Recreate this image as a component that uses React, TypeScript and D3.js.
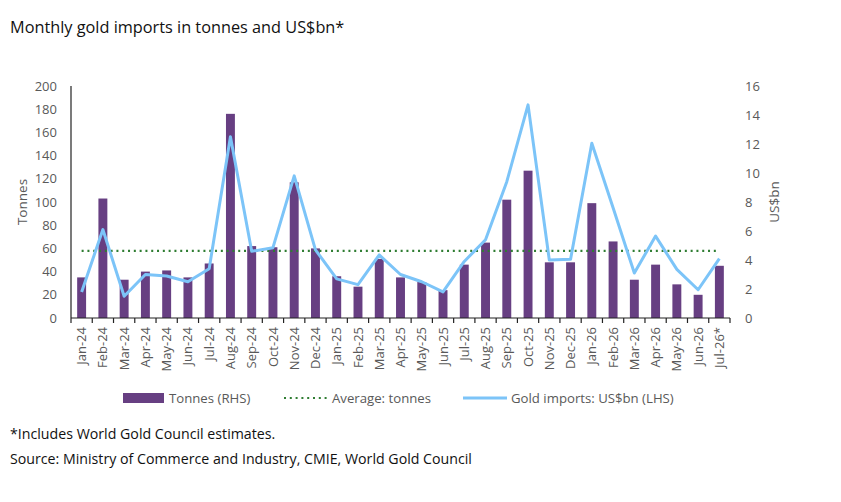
import * as d3 from "d3";

const months = [
  "Jan-24", "Feb-24", "Mar-24", "Apr-24", "May-24", "Jun-24", "Jul-24", "Aug-24",
  "Sep-24", "Oct-24", "Nov-24", "Dec-24", "Jan-25", "Feb-25", "Mar-25", "Apr-25",
  "May-25", "Jun-25", "Jul-25", "Aug-25", "Sep-25", "Oct-25", "Nov-25", "Dec-25",
  "Jan-26", "Feb-26", "Mar-26", "Apr-26", "May-26", "Jun-26", "Jul-26*",
];

// tonnes (bars)
const tonnes = [
  35, 103, 33, 40, 41, 35, 47, 176, 62, 61, 117, 60, 36, 27, 51, 35,
  31, 24, 46, 65, 102, 127, 48, 48, 99, 66, 33, 46, 29, 20, 45,
];

// US$bn (line)
const usdBn = [
  1.8, 6.1, 1.5, 3.0, 2.9, 2.5, 3.4, 12.5, 4.6, 4.85, 9.8, 4.7, 2.7, 2.3, 4.35, 3.0,
  2.5, 1.8, 3.9, 5.4, 9.4, 14.7, 4.0, 4.05, 12.05, 7.6, 3.1, 5.65, 3.35, 1.95, 4.1,
];

const avgTonnes = 57.8;

const leftTicks = [0, 20, 40, 60, 80, 100, 120, 140, 160, 180, 200];
const rightTicks = [0, 2, 4, 6, 8, 10, 12, 14, 16];

const W = 841;
const H = 502;
const plot = { left: 71, right: 730, top: 86, bottom: 318 };
const font = "'Open Sans', 'Noto Sans', sans-serif";
const grey = "#595959";
const purple = "#673f82";
const blue = "#7cc4f8";
const green = "#2f7d32";

export default function App() {
  const x = d3
    .scaleBand()
    .domain(months)
    .range([plot.left, plot.right])
    .paddingInner(0.58)
    .paddingOuter(0.29);

  const step = x.step();
  const center = (m: string) => x(m)! + x.bandwidth() / 2;

  const yL = d3.scaleLinear().domain([0, 200]).range([plot.bottom, plot.top]);
  const yR = d3.scaleLinear().domain([0, 16]).range([plot.bottom, plot.top]);

  const line = d3
    .line<number>()
    .x((_, i) => center(months[i]))
    .y((d) => yR(d));

  const boundaries = d3.range(months.length + 1).map((i) => plot.left + i * step);

  return (
    <svg width={W} height={H} style={{ position: "absolute", left: 0, top: 0, background: "#fff" }} fontFamily={font}>
      <text x={10} y={33} fontSize={16.3} fill="#111">
        Monthly gold imports in tonnes and US$bn*
      </text>

      {/* bars */}
      {tonnes.map((v, i) => (
        <rect
          key={months[i]}
          x={x(months[i])}
          y={yL(v)}
          width={x.bandwidth()}
          height={yL(0) - yL(v)}
          fill={purple}
        />
      ))}

      {/* average */}
      <line
        x1={center(months[0])}
        x2={center(months[months.length - 1])}
        y1={yL(avgTonnes)}
        y2={yL(avgTonnes)}
        stroke={green}
        strokeWidth={2.2}
        strokeDasharray="2 3.8"
      />

      {/* US$bn line */}
      <path d={line(usdBn)!} fill="none" stroke={blue} strokeWidth={3} strokeLinejoin="round" />

      {/* axes */}
      <line x1={plot.left} x2={plot.left} y1={plot.top} y2={plot.bottom} stroke="#222" strokeWidth={1.2} />
      <line x1={plot.left} x2={plot.right} y1={plot.bottom} y2={plot.bottom} stroke="#222" strokeWidth={1.2} />
      {boundaries.map((b, i) => (
        <line key={i} x1={b} x2={b} y1={plot.bottom} y2={plot.bottom + 5} stroke="#222" strokeWidth={1.2} />
      ))}

      {leftTicks.map((t) => (
        <text key={t} x={57} y={yL(t)} dy="0.35em" textAnchor="end" fontSize={13} fill={grey}>
          {t}
        </text>
      ))}
      {rightTicks.map((t) => (
        <text key={t} x={745} y={yR(t)} dy="0.35em" textAnchor="start" fontSize={13} fill={grey}>
          {t}
        </text>
      ))}

      {months.map((m) => (
        <text
          key={m}
          transform={`translate(${center(m)},${plot.bottom + 9}) rotate(-90)`}
          dy="0.35em"
          textAnchor="end"
          fontSize={13}
          fill={grey}
        >
          {m}
        </text>
      ))}

      <text transform={`translate(22,${(plot.top + plot.bottom) / 2}) rotate(-90)`} dy="0.35em" textAnchor="middle" fontSize={13.5} fill={grey}>
        Tonnes
      </text>
      <text transform={`translate(774,${(plot.top + plot.bottom) / 2}) rotate(-90)`} dy="0.35em" textAnchor="middle" fontSize={13.5} fill={grey}>
        US$bn
      </text>

      {/* legend */}
      <rect x={123} y={393} width={41} height={10} fill={purple} />
      <text x={169} y={398} dy="0.35em" fontSize={13.2} fill={grey}>
        Tonnes (RHS)
      </text>
      <line x1={284} x2={329} y1={398} y2={398} stroke={green} strokeWidth={2.2} strokeDasharray="2 3.8" />
      <text x={332} y={398} dy="0.35em" fontSize={13.2} fill={grey}>
        Average: tonnes
      </text>
      <line x1={463} x2={507} y1={398} y2={398} stroke={blue} strokeWidth={3} />
      <text x={511} y={398} dy="0.35em" fontSize={13.2} fill={grey}>
        Gold imports: US$bn (LHS)
      </text>

      <text x={10} y={439} fontSize={14.2} fill="#111">
        *Includes World Gold Council estimates.
      </text>
      <text x={10} y={464} fontSize={14.2} fill="#111">
        Source: Ministry of Commerce and Industry, CMIE, World Gold Council
      </text>
    </svg>
  );
}
